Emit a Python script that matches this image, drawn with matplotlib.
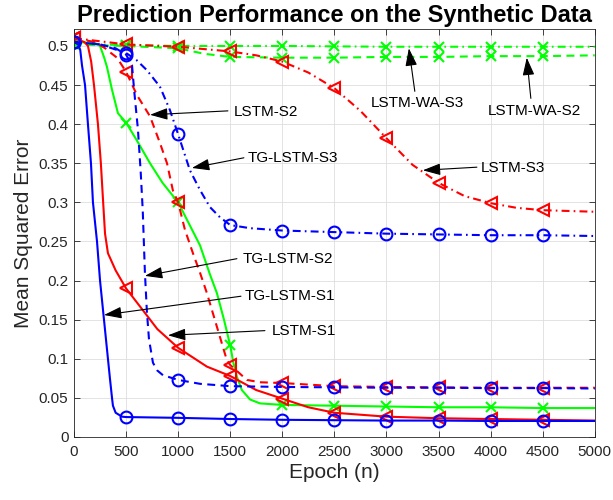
import matplotlib
matplotlib.use('Agg')
import matplotlib.pyplot as plt
import numpy as np

plt.rcParams['font.family'] = ['Liberation Sans', 'DejaVu Sans']

# ---- data (epoch, MSE) ----
tg_s1_x = [0, 40, 60, 77, 106, 134, 163, 182, 221, 250, 288, 326, 345, 365, 374, 400, 461, 500,
           1000, 1500, 2000, 2500, 3000, 3500, 4000, 4500, 5000]
tg_s1_y = [0.505, 0.502, 0.495, 0.475, 0.45, 0.40, 0.35, 0.30, 0.25, 0.20, 0.15, 0.10, 0.075, 0.05,
           0.04, 0.031, 0.026, 0.0255, 0.0245, 0.023, 0.022, 0.0215, 0.021, 0.021, 0.0205, 0.0205, 0.0205]

tg_s2_x = [0, 250, 400, 500, 557, 580, 614, 640, 660, 681, 700, 720, 758, 800, 854, 1000, 1210, 1500,
           2000, 2500, 3000, 3500, 4000, 4500, 5000]
tg_s2_y = [0.505, 0.502, 0.497, 0.489, 0.475, 0.44, 0.393, 0.34, 0.29, 0.21, 0.16, 0.125, 0.095, 0.085,
           0.079, 0.073, 0.068, 0.065, 0.064, 0.0635, 0.063, 0.063, 0.0625, 0.0625, 0.062]

tg_s3_x = [0, 250, 500, 600, 700, 825, 921, 1000, 1113, 1209, 1305, 1401, 1500, 1690, 2000, 2500,
           3000, 3500, 4000, 4500, 5000]
tg_s3_y = [0.505, 0.502, 0.491, 0.482, 0.469, 0.448, 0.418, 0.387, 0.341, 0.316, 0.294, 0.281, 0.271,
           0.267, 0.264, 0.262, 0.26, 0.259, 0.258, 0.258, 0.257]

lstm_s1_x = [0, 100, 134, 165, 192, 230, 258, 280, 298, 326, 400, 500, 662, 800, 1000, 1276, 1500,
             1750, 2000, 2250, 2500, 3000, 3500, 4000, 4500, 5000]
lstm_s1_y = [0.51, 0.505, 0.5, 0.48, 0.45, 0.40, 0.35, 0.30, 0.26, 0.235, 0.213, 0.19, 0.162, 0.138,
             0.114, 0.09, 0.078, 0.06, 0.049, 0.038, 0.031, 0.026, 0.024, 0.023, 0.022, 0.021]

lstm_s2_x = [0, 200, 300, 345, 413, 500, 605, 730, 825, 893, 950, 1000, 1065, 1142, 1210, 1276, 1372,
             1468, 1500, 1660, 1785, 2000, 2500, 3000, 3500, 4000, 4500, 5000]
lstm_s2_y = [0.51, 0.505, 0.497, 0.492, 0.485, 0.467, 0.437, 0.41, 0.376, 0.35, 0.315, 0.3, 0.265,
             0.235, 0.21, 0.184, 0.141, 0.098, 0.092, 0.073, 0.07, 0.069, 0.065, 0.064, 0.0635, 0.063,
             0.063, 0.063]

lstm_s3_x = [0, 500, 1000, 1500, 1750, 2000, 2250, 2500, 2750, 3000, 3250, 3500, 3750, 4000, 4250,
             4500, 5000]
lstm_s3_y = [0.51, 0.502, 0.499, 0.493, 0.488, 0.48, 0.466, 0.446, 0.417, 0.382, 0.348, 0.325, 0.308,
             0.299, 0.293, 0.29, 0.288]

wa_s1_x = [0, 200, 250, 290, 317, 365, 422, 500, 600, 730, 850, 1000, 1145, 1210, 1305, 1372, 1440,
           1500, 1530, 1564, 1612, 1690, 1785, 2000, 2500, 3000, 3500, 4000, 4500, 5000]
wa_s1_y = [0.505, 0.504, 0.5, 0.485, 0.473, 0.444, 0.414, 0.402, 0.38, 0.35, 0.325, 0.3, 0.262, 0.245,
           0.208, 0.184, 0.15, 0.117, 0.095, 0.077, 0.06, 0.048, 0.043, 0.041, 0.04, 0.039, 0.038,
           0.038, 0.037, 0.037]

wa_s2_x = [0, 500, 1000, 1250, 1500, 2000, 2500, 3000, 3500, 4000, 4500, 5000]
wa_s2_y = [0.502, 0.5, 0.497, 0.49, 0.486, 0.485, 0.485, 0.486, 0.486, 0.487, 0.487, 0.488]

wa_s3_x = [0, 500, 1000, 1500, 2000, 2500, 3000, 3500, 4000, 4500, 5000]
wa_s3_y = [0.503, 0.501, 0.5, 0.5, 0.5, 0.4995, 0.499, 0.499, 0.499, 0.499, 0.499]

ytick_vals = [0, 0.05, 0.1, 0.15, 0.2, 0.25, 0.3, 0.35, 0.4, 0.45, 0.5]
ytick_labels = ['0', '0.05', '0.1', '0.15', '0.2', '0.25', '0.3', '0.35', '0.4', '0.45', '0.5']
xtick_vals = [0, 500, 1000, 1500, 2000, 2500, 3000, 3500, 4000, 4500, 5000]

# (label, head xy, tail xy, text xy, ha)
notes = [
    ('LSTM-S2',    (730, 0.412),  (1478, 0.417), (1530, 0.416), 'left'),
    ('TG-LSTM-S3', (1132, 0.344), (1631, 0.357), (1670, 0.357), 'left'),
    ('TG-LSTM-S2', (681, 0.206),  (1564, 0.228), (1622, 0.228), 'left'),
    ('TG-LSTM-S1', (288, 0.156),  (1603, 0.180), (1641, 0.180), 'left'),
    ('LSTM-S1',    (902, 0.130),  (1833, 0.136), (1900, 0.135), 'left'),
    ('LSTM-S3',    (3349, 0.341), (3868, 0.345), (3906, 0.344), 'left'),
    ('LSTM-WA-S3', (3215, 0.497), (3272, 0.442), (3301, 0.427), 'center'),
    ('LSTM-WA-S2', (4347, 0.485), (4386, 0.433), (4424, 0.417), 'center'),
]


def marks(xs):
    return [i for i, v in enumerate(xs) if v % 500 == 0 and v < 5000]


fig = plt.figure(figsize=(6.13, 5.0), dpi=100)
ax = fig.add_axes([0.1207, 0.126, 0.8496, 0.8154])

dash = {'-': '-', '--': (0, (3.8, 2.6)), '-.': (0, (3.8, 2.0, 0.8, 2.0))}
msize = {'o': 8.5, '<': 8.5, 'x': 7}
series = [
    (wa_s3_x, wa_s3_y, (0, 1, 0), '-.', 'x'),
    (wa_s2_x, wa_s2_y, (0, 1, 0), '--', 'x'),
    (wa_s1_x, wa_s1_y, (0, 1, 0), '-', 'x'),
    (lstm_s3_x, lstm_s3_y, (1, 0, 0), '-.', '<'),
    (lstm_s2_x, lstm_s2_y, (1, 0, 0), '--', '<'),
    (lstm_s1_x, lstm_s1_y, (1, 0, 0), '-', '<'),
    (tg_s3_x, tg_s3_y, (0, 0, 1), '-.', 'o'),
    (tg_s2_x, tg_s2_y, (0, 0, 1), '--', 'o'),
    (tg_s1_x, tg_s1_y, (0, 0, 1), '-', 'o'),
]
for xs, ys, c, ls, mk in series:
    ax.plot(xs, ys, color=c, ls=dash[ls], marker=mk, markevery=marks(xs),
            mfc='none', mec=c, lw=1.5, ms=msize[mk], mew=1.5)

for label, head, tail, txt, ha in notes:
    ax.annotate('', xy=head, xytext=tail,
                arrowprops=dict(arrowstyle='-|>,head_length=0.9,head_width=0.3',
                                color='k', lw=0.8, mutation_scale=12,
                                shrinkA=0, shrinkB=0))
    ax.text(txt[0], txt[1], label, ha=ha, va='center', fontsize=11, color='k')

ax.set_xlim(0, 5000)
ax.set_ylim(0, 0.5213)
ax.set_xticks(xtick_vals)
ax.set_xticklabels([str(v) for v in xtick_vals])
ax.set_yticks(ytick_vals)
ax.set_yticklabels(ytick_labels)
ax.grid(True, color=(0.87, 0.87, 0.87), lw=0.6)
ax.set_axisbelow(True)
ax.tick_params(direction='in', top=True, right=True, length=4, width=0.6,
               labelsize=11, colors=(0.15, 0.15, 0.15))
ax.tick_params(axis='x', pad=6)
ax.tick_params(axis='y', pad=4)
for s in ax.spines.values():
    s.set_color((0.15, 0.15, 0.15))
    s.set_linewidth(0.6)

ax.set_xlabel('Epoch (n)', fontsize=15, color=(0.15, 0.15, 0.15), labelpad=3)
ax.set_ylabel('Mean Squared Error', fontsize=15, color=(0.15, 0.15, 0.15), labelpad=4)
ax.set_title('Prediction Performance on the Synthetic Data', fontsize=17,
             fontweight='bold', pad=5)

plt.savefig('out.png', dpi=100)
plt.close()
